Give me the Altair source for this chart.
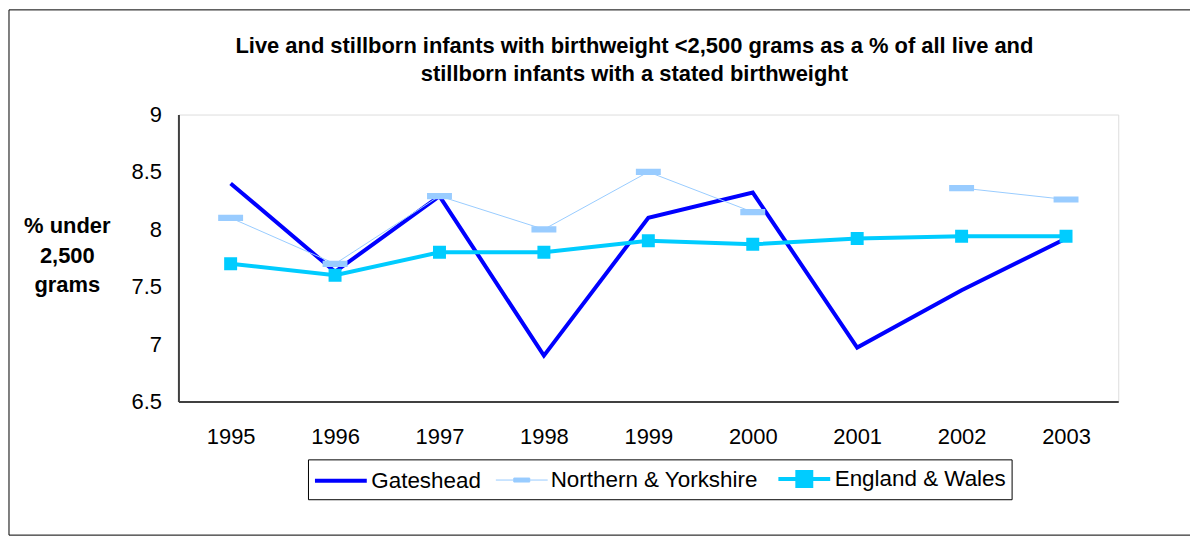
import altair as alt
import pandas as pd

# ---------------- data ----------------
years = ["1995", "1996", "1997", "1998", "1999", "2000", "2001", "2002", "2003"]
series_names = ["Gateshead", "Northern & Yorkshire", "England & Wales"]
gateshead = [8.40, 7.63, 8.29, 6.90, 8.10, 8.32, 6.97, 7.47, 7.92]
northern_yorkshire = [8.10, 7.70, 8.29, 8.00, 8.50, 8.15, None, 8.36, 8.26]
england_wales = [7.70, 7.60, 7.80, 7.80, 7.90, 7.87, 7.92, 7.94, 7.94]
y_ticks = [6.5, 7, 7.5, 8, 8.5, 9]

title_lines = [
    "Live and stillborn infants with birthweight <2,500 grams as a % of all live and",
    "stillborn infants with a stated birthweight",
]
y_title = ["% under", "2,500", "grams"]

# ---------------- styles ----------------
colors = ["#0000FF", "#99CCFF", "#00CCFF"]
line_widths = [4, 1, 4]
shape_paths = [
    "M-2.08,0H2.08",
    "M-2.08,0H2.08M-0.64,-0.16H0.64V0.16H-0.64Z",
    "M-2.08,0H2.08M-0.56,-0.56H0.56V0.56H-0.56Z",
]
FONT = "Liberation Sans"

rows = []
for name, vals in zip(series_names, [gateshead, northern_yorkshire, england_wales]):
    for yr, v in zip(years, vals):
        rows.append({"Year": yr, "Series": name, "Value": v})
df = pd.DataFrame(rows)

W, H = 943, 288

color_scale = alt.Scale(domain=series_names, range=colors)
sw_scale = alt.Scale(type="ordinal", domain=series_names, range=line_widths)
shape_scale = alt.Scale(domain=series_names, range=shape_paths)

legend = alt.Legend(
    title=None,
    orient="none",
    legendX=130,
    legendY=346,
    direction="horizontal",
    strokeColor="#000000",
    fillColor="#FFFFFF",
    padding=5,
    labelFont=FONT,
    labelFontSize=22.5,
    labelColor="#000000",
    labelLimit=500,
    symbolSize=625,
    symbolOffset=13.5,
    labelOffset=16,
    columnPadding=12,
)

x_enc = alt.X(
    "Year:O",
    sort=years,
    scale=alt.Scale(type="point", padding=0.5),
    axis=alt.Axis(
        title=None, labelAngle=0, labelFont=FONT, labelFontSize=22, labelColor="#000000",
        ticks=False, labelPadding=25, domainColor="#404040", domainWidth=2, grid=False,
    ),
)
y_enc = alt.Y(
    "Value:Q",
    scale=alt.Scale(domain=[6.5, 9], nice=False, zero=False),
    axis=alt.Axis(
        title=y_title, titleAngle=0, titleAlign="center", titleBaseline="middle",
        titleX=-112, titleY=111, titleFont=FONT, titleFontSize=22, titleFontWeight="bold",
        titleLineHeight=30, titleColor="#000000",
        values=y_ticks, format="~g", labelFont=FONT, labelFontSize=22, labelColor="#000000",
        ticks=False, labelPadding=17, domainColor="#404040", domainWidth=2, grid=False,
    ),
)

base = alt.Chart(df)

lines = base.mark_line(invalid="break-paths-show-domains").encode(
    x=x_enc,
    y=y_enc,
    color=alt.Color("Series:N", scale=color_scale, sort=series_names, legend=legend),
    strokeWidth=alt.StrokeWidth("Series:N", scale=sw_scale, sort=series_names, legend=legend),
)

pts_ny = base.transform_filter(alt.datum.Series == series_names[1]).mark_point(
    filled=True, size=1526, opacity=1, strokeWidth=0
).encode(
    x=x_enc,
    y=y_enc,
    color=alt.Color("Series:N", scale=color_scale, sort=series_names, legend=legend),
    shape=alt.Shape("Series:N", scale=shape_scale, sort=series_names, legend=legend),
)

pts_ew = base.transform_filter(alt.datum.Series == series_names[2]).mark_point(
    filled=True, size=539, opacity=1, strokeWidth=0
).encode(
    x=x_enc,
    y=y_enc,
    color=alt.Color("Series:N", scale=color_scale, sort=series_names, legend=legend),
    shape=alt.Shape("Series:N", scale=shape_scale, sort=series_names, legend=legend),
)

frame = alt.Chart(pd.DataFrame({"k": [0]})).mark_rect(
    fillOpacity=0, stroke="#000000", strokeWidth=1
).encode(
    x=alt.value(-170), x2=alt.value(W + 90), y=alt.value(-105), y2=alt.value(H + 134)
)

chart = (
    alt.layer(frame, lines, pts_ny, pts_ew)
    .properties(
        width=W,
        height=H,
        title=alt.Title(
            text=title_lines, font=FONT, fontSize=22, fontWeight="bold", color="#000000",
            anchor="middle", dx=-14, lineHeight=28, offset=-77,
        ),
        autosize=alt.AutoSizeParams(type="none"),
        padding={"left": 171, "top": 106, "right": 72, "bottom": 135},
    )
    .configure_view(stroke="#808080", strokeWidth=2)
    .configure(background="#FFFFFF")
)

chart.save("out.html", embed_options={"renderer": "svg", "actions": False})
